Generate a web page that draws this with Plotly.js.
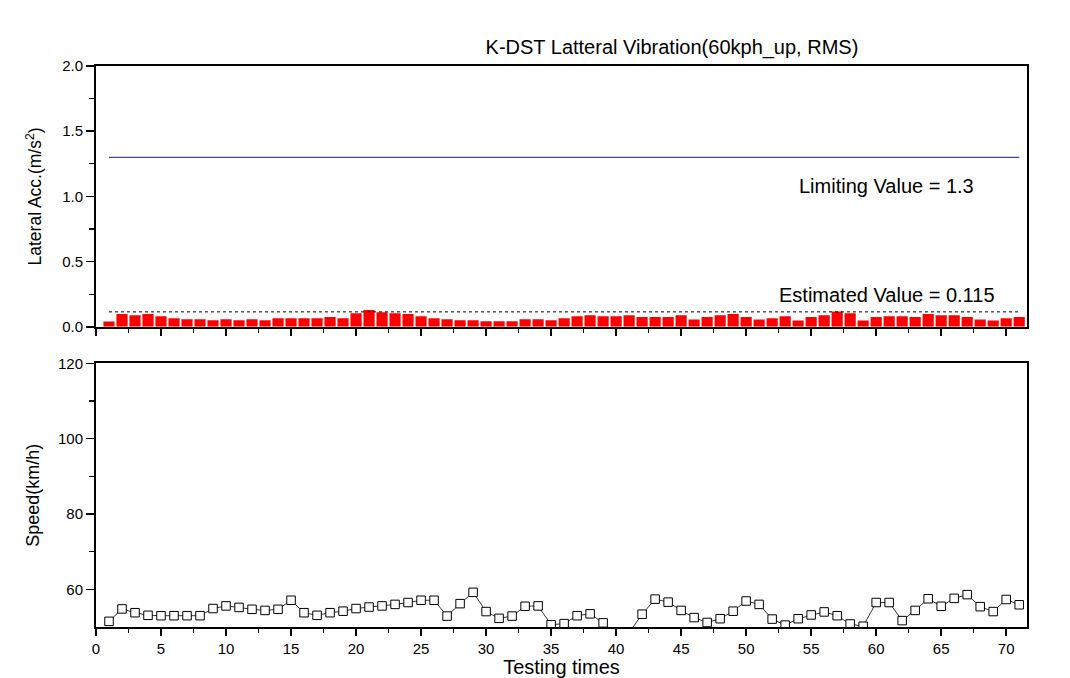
<!DOCTYPE html>
<html>
<head>
<meta charset="utf-8">
<script src="https://cdn.plot.ly/plotly-3.0.1.min.js"></script>
<style>
  html, body { margin: 0; padding: 0; background: #fff; }
  #chart { width: 1070px; height: 678px; }
</style>
</head>
<body>
<div id="chart"></div>
<script>
// testing run numbers 1..71
const TESTS = [];
for (let i = 1; i <= 71; i++) TESTS.push(i);

// lateral acceleration RMS per run (m/s^2)
const LATERAL_ACC = [
  0.041, 0.098, 0.090, 0.098, 0.082, 0.067, 0.059, 0.059, 0.051, 0.059,
  0.051, 0.059, 0.051, 0.067, 0.067, 0.067, 0.067, 0.075, 0.067, 0.105,
  0.129, 0.113, 0.105, 0.098, 0.082, 0.067, 0.059, 0.051, 0.051, 0.044,
  0.044, 0.044, 0.059, 0.059, 0.051, 0.067, 0.082, 0.090, 0.082, 0.082,
  0.090, 0.075, 0.075, 0.075, 0.090, 0.057, 0.075, 0.090, 0.098, 0.075,
  0.057, 0.067, 0.082, 0.049, 0.075, 0.090, 0.118, 0.105, 0.049, 0.075,
  0.082, 0.082, 0.075, 0.098, 0.090, 0.090, 0.075, 0.057, 0.049, 0.067,
  0.075
];

// train speed per run (km/h)
const SPEED = [
  51.5, 54.8, 53.8, 53.1, 53.0, 53.0, 53.0, 53.0, 54.9, 55.6,
  55.2, 54.7, 54.4, 54.7, 57.1, 53.8, 53.1, 53.8, 54.2, 54.9,
  55.3, 55.6, 56.0, 56.5, 57.1, 57.1, 52.9, 56.2, 59.2, 54.1,
  52.3, 52.9, 55.5, 55.6, 50.6, 50.9, 53.0, 53.5, 51.1, 47.4,
  48.5, 53.4, 57.4, 56.6, 54.4, 52.5, 51.2, 52.2, 54.2, 56.9,
  56.0, 52.1, 50.5, 52.2, 53.2, 54.0, 53.0, 50.8, 50.2, 56.5,
  56.5, 51.7, 54.4, 57.5, 55.5, 57.6, 58.6, 55.4, 54.1, 57.3,
  55.9
];

const LIMIT_VALUE = 1.3;
const ESTIMATED_VALUE = 0.115;
const REF_X = [1, 71];

const FONT = 'Liberation Sans, Arial, sans-serif';

const traces = [
  {
    x: TESTS, y: LATERAL_ACC, type: 'bar',
    xaxis: 'x', yaxis: 'y',
    marker: { color: '#ff0000', line: { width: 0 } },
    width: 0.86, hoverinfo: 'skip'
  },
  {
    x: REF_X, y: [LIMIT_VALUE, LIMIT_VALUE], type: 'scatter', mode: 'lines',
    xaxis: 'x', yaxis: 'y',
    line: { color: '#14148c', width: 1 }
  },
  {
    x: REF_X, y: [ESTIMATED_VALUE, ESTIMATED_VALUE], type: 'scatter', mode: 'lines',
    xaxis: 'x', yaxis: 'y',
    line: { color: '#000', width: 1, dash: '3px,3px' }
  },
  {
    x: TESTS, y: SPEED, type: 'scatter', mode: 'lines+markers',
    xaxis: 'x2', yaxis: 'y2',
    line: { color: '#000', width: 0.8 },
    marker: { symbol: 'square', size: 8.5, color: '#fff', line: { color: '#000', width: 1 } }
  }
];

const xCommon = {
  range: [0, 71.6],
  showline: true, linecolor: '#000', linewidth: 2, mirror: true,
  showgrid: false, zeroline: false,
  ticks: 'outside', ticklen: 7, tickwidth: 1.5, tickcolor: '#000',
  tickvals: [0, 5, 10, 15, 20, 25, 30, 35, 40, 45, 50, 55, 60, 65, 70],
  minor: { tickvals: [2.5, 7.5, 12.5, 17.5, 22.5, 27.5, 32.5, 37.5, 42.5, 47.5, 52.5, 57.5, 62.5, 67.5],
           ticks: 'outside', ticklen: 4, tickwidth: 1.2, tickcolor: '#000' }
};

const layout = {
  width: 1070, height: 678,
  paper_bgcolor: '#fff', plot_bgcolor: '#fff',
  margin: { t: 66, l: 96, r: 43, b: 51 },
  showlegend: false,
  font: { family: FONT, color: '#000', size: 15 },
  title: {
    text: 'K-DST Latteral Vibration(60kph_up, RMS)',
    font: { family: FONT, size: 20, color: '#000' },
    x: 0.628, xref: 'container', xanchor: 'center',
    y: 0.931, yref: 'container', yanchor: 'middle'
  },
  xaxis: Object.assign({}, xCommon, { anchor: 'y', showticklabels: false }),
  xaxis2: Object.assign({}, xCommon, {
    anchor: 'y2', showticklabels: true,
    tickfont: { family: FONT, size: 15 },
    title: { text: 'Testing times', font: { family: FONT, size: 20 }, standoff: 4 }
  }),
  yaxis: {
    domain: [0.535, 1], range: [0, 2],
    showline: true, linecolor: '#000', linewidth: 2, mirror: true,
    showgrid: false, zeroline: false,
    ticks: 'outside', ticklen: 8, tickwidth: 1.5, tickcolor: '#000',
    dtick: 0.5, tickformat: '.1f',
    tickfont: { family: FONT, size: 15 },
    minor: { dtick: 0.25, ticks: 'outside', ticklen: 5, tickwidth: 1.2, tickcolor: '#000' },
    title: { text: 'Lateral Acc.(m/s<sup>2</sup>)', font: { family: FONT, size: 17.5 }, standoff: 16 }
  },
  yaxis2: {
    domain: [0, 0.47], range: [50, 120],
    showline: true, linecolor: '#000', linewidth: 2, mirror: true,
    showgrid: false, zeroline: false,
    ticks: 'outside', ticklen: 8, tickwidth: 1.5, tickcolor: '#000',
    tickvals: [60, 80, 100, 120],
    tickfont: { family: FONT, size: 15 },
    minor: { tickvals: [70, 90, 110], ticks: 'outside', ticklen: 5, tickwidth: 1.2, tickcolor: '#000' },
    title: { text: 'Speed(km/h)', font: { family: FONT, size: 18 }, standoff: 14 }
  },
  annotations: [
    {
      xref: 'x', yref: 'y', x: 60.8, y: 1.078,
      text: 'Limiting Value = 1.3', showarrow: false,
      font: { family: FONT, size: 20, color: '#000' }
    },
    {
      xref: 'x', yref: 'y', x: 60.8, y: 0.243,
      text: 'Estimated Value = 0.115', showarrow: false,
      font: { family: FONT, size: 20, color: '#000' }
    }
  ]
};

Plotly.newPlot('chart', traces, layout, { displayModeBar: false, staticPlot: true });
</script>
</body>
</html>
